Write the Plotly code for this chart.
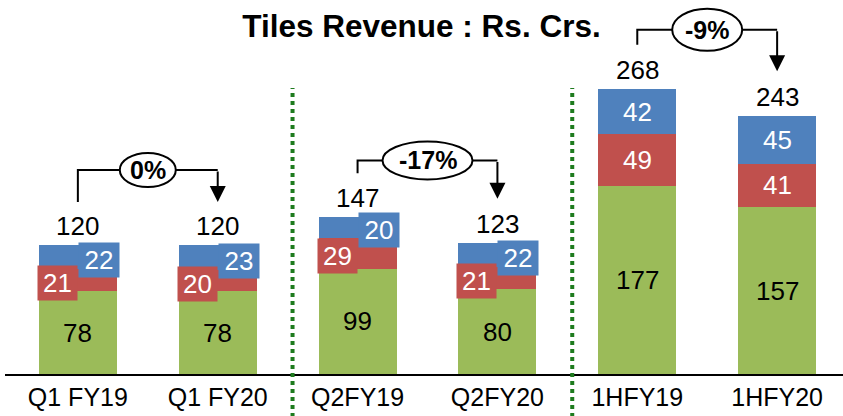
import plotly.graph_objects as go

# Tiles revenue, Rs. Crs.
categories = ["Q1 FY19", "Q1 FY20", "Q2FY19", "Q2FY20", "1HFY19", "1HFY20"]
green_vals = [78, 78, 99, 80, 177, 157]
red_vals = [21, 20, 29, 21, 49, 41]
blue_vals = [22, 23, 20, 22, 42, 45]
totals = [120, 120, 147, 123, 268, 243]
growth_labels = ["0%", "-17%", "-9%"]

GREEN = "#9BBB59"
RED = "#C0504D"
BLUE = "#4F81BD"
SEP = "#1E7B1E"
FONT = "Liberation Sans, Arial, sans-serif"
BAR_W = 0.557
NUM_SIZE = 26

x = list(range(len(categories)))

fig = go.Figure()
for vals, col in [(green_vals, GREEN), (red_vals, RED), (blue_vals, BLUE)]:
    fig.add_trace(go.Bar(x=x, y=vals, marker=dict(color=col, line=dict(width=0)),
                         width=BAR_W, hoverinfo="skip"))

annotations = []

# segment labels
for i in x:
    g, r, b = green_vals[i], red_vals[i], blue_vals[i]
    annotations.append(dict(x=i, y=g / 2, text=str(g), showarrow=False,
                            font=dict(size=NUM_SIZE, color="black", family=FONT)))
    if r < 35:
        # small segments: offset label boxes like the original slide
        annotations.append(dict(x=i, y=g + r / 2, yshift=-3, text=str(r), showarrow=False,
                                xanchor="right", width=37, height=32, bgcolor=RED,
                                font=dict(size=NUM_SIZE, color="white", family=FONT)))
        annotations.append(dict(x=i, y=g + r + b / 2, yshift=-3, text=str(b), showarrow=False,
                                xanchor="left", width=38, height=32, bgcolor=BLUE,
                                font=dict(size=NUM_SIZE, color="white", family=FONT)))
    else:
        annotations.append(dict(x=i, y=g + r / 2, text=str(r), showarrow=False,
                                font=dict(size=NUM_SIZE, color="white", family=FONT)))
        annotations.append(dict(x=i, y=g + r + b / 2, text=str(b), showarrow=False,
                                font=dict(size=NUM_SIZE, color="white", family=FONT)))

# totals above bars
for i in x:
    annotations.append(dict(x=i, y=green_vals[i] + red_vals[i] + blue_vals[i], text=str(totals[i]),
                            showarrow=False, yanchor="bottom", yshift=2,
                            font=dict(size=NUM_SIZE, color="black", family=FONT)))

shapes = []
bracket_rise = [30, 12, 14]
ellipse_px = [(56, 34), (90, 38), (70, 42)]
for k, lab in enumerate(growth_labels):
    x0, x1 = 2 * k, 2 * k + 1
    yb = totals[x0] + 42
    yt = yb + bracket_rise[k]
    tip = totals[x1] + 42
    shapes.append(dict(type="path", xref="x", yref="y",
                       path=f"M {x0},{yb} L {x0},{yt} L {x1},{yt}",
                       line=dict(color="black", width=2)))
    annotations.append(dict(x=x1, y=tip, ax=x1, ay=yt, axref="x", ayref="y", text="",
                            showarrow=True, arrowhead=2, arrowsize=1.6, arrowwidth=2,
                            arrowcolor="black"))
    w, h = ellipse_px[k]
    shapes.append(dict(type="circle", xref="x", yref="y", xsizemode="pixel", ysizemode="pixel",
                       xanchor=x0 + 0.5, yanchor=yt, x0=-w / 2, x1=w / 2, y0=-h / 2, y1=h / 2,
                       fillcolor="white", line=dict(color="black", width=2)))
    annotations.append(dict(x=x0 + 0.5, y=yt, text=f"<b>{lab}</b>", showarrow=False,
                            font=dict(size=25, color="black", family=FONT)))

# dotted separators between the groups
for sx in [1.535, 3.535]:
    shapes.append(dict(type="line", xref="x", yref="paper", x0=sx, x1=sx, y0=-0.115, y1=0.765,
                       line=dict(color=SEP, width=4, dash="dot")))

fig.update_layout(
    width=843, height=416,
    margin=dict(l=5, r=0, t=0, b=42),
    barmode="stack", showlegend=False,
    plot_bgcolor="white", paper_bgcolor="white",
    title=dict(text="<b>Tiles Revenue : Rs. Crs.</b>", xref="container", x=0.5, xanchor="center",
               yref="container", y=1 - 26 / 416, yanchor="middle",
               font=dict(size=31.5, color="black", family=FONT)),
    xaxis=dict(range=[-0.521, 5.471], tickvals=x, ticktext=categories, showgrid=False,
               zeroline=False, showline=True, linecolor="black", linewidth=1.5, ticks="",
               tickfont=dict(size=25, color="black", family=FONT)),
    yaxis=dict(range=[0, 352], visible=False),
    annotations=annotations, shapes=shapes,
)

fig.write_html("out.html", config={"displayModeBar": False},
               post_script="document.body.style.margin='0';")
